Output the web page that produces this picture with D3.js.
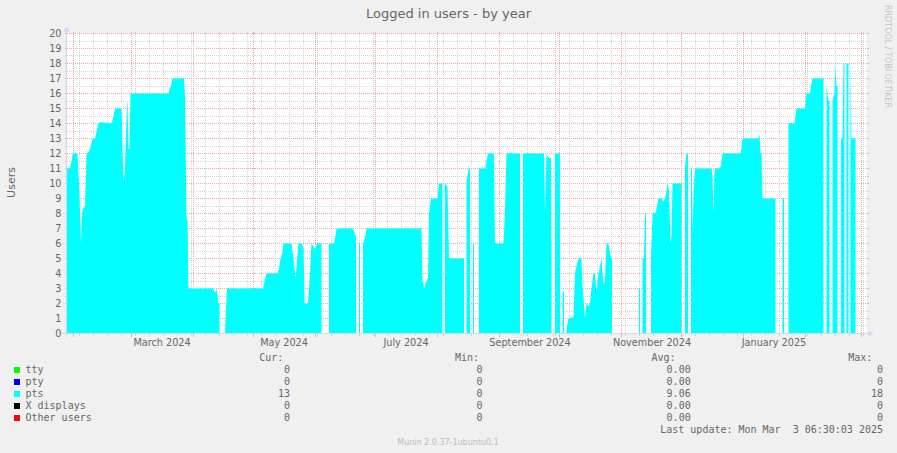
<!DOCTYPE html>
<html>
<head>
<meta charset="utf-8">
<script src="https://cdn.jsdelivr.net/npm/d3@7"></script>
<style>
  body { margin: 0; background: #f0f0f0; }
  svg { display: block; }
  text { fill: #666; }
</style>
</head>
<body>
<svg id="chart"></svg>
<script>
// pts series: [time, users], null = no data
const ptsData = [
    ['2024-01-28 12:00', 11], ['2024-01-30 06:00', 11], ['2024-01-30 18:00', 11.3], ['2024-01-31 06:00', 11.6],
    ['2024-01-31 12:00', 12], ['2024-02-03 00:00', 12], ['2024-02-03 18:00', 10], ['2024-02-04 18:00', 6],
    ['2024-02-05 06:00', 8], ['2024-02-05 18:00', 8.3], ['2024-02-06 18:00', 8.5], ['2024-02-07 12:00', 12],
    ['2024-02-08 18:00', 12.1], ['2024-02-09 06:00', 12.3], ['2024-02-10 12:00', 13], ['2024-02-11 18:00', 13],
    ['2024-02-12 06:00', 13.3], ['2024-02-13 12:00', 14], ['2024-02-14 00:00', 14.1], ['2024-02-20 00:00', 14],
    ['2024-02-20 12:00', 14.2], ['2024-02-21 00:00', 14.5], ['2024-02-21 18:00', 15], ['2024-02-25 00:00', 15],
    ['2024-02-26 00:00', 10], ['2024-02-26 18:00', 11], ['2024-02-27 18:00', 15.4], ['2024-02-28 00:00', 15.4],
    ['2024-02-28 12:00', 12.3], ['2024-02-29 00:00', 12.3], ['2024-02-29 12:00', 16], ['2024-03-19 12:00', 16],
    ['2024-03-20 00:00', 16.3], ['2024-03-20 18:00', 16.5], ['2024-03-21 12:00', 17], ['2024-03-27 06:00', 17],
    ['2024-03-27 18:00', 15.8], ['2024-03-28 12:00', 7.7], ['2024-03-29 00:00', 7.5], ['2024-03-29 12:00', 3],
    ['2024-04-11 00:00', 3], ['2024-04-11 18:00', 2.7], ['2024-04-12 12:00', 3], ['2024-04-13 12:00', 2],
    ['2024-04-14 00:00', 2], ['2024-04-15 00:00', null], ['2024-04-16 18:00', 0], ['2024-04-17 00:00', 1],
    ['2024-04-17 18:00', 3], ['2024-05-05 18:00', 3], ['2024-05-06 12:00', 3.5], ['2024-05-07 12:00', 4],
    ['2024-05-13 00:00', 4], ['2024-05-13 18:00', 4.3], ['2024-05-14 12:00', 5], ['2024-05-15 12:00', 5.4],
    ['2024-05-16 00:00', 6], ['2024-05-20 00:00', 6], ['2024-05-21 00:00', 5], ['2024-05-22 00:00', 3.6],
    ['2024-05-23 00:00', 5.3], ['2024-05-23 12:00', 6], ['2024-05-25 00:00', 6], ['2024-05-26 00:00', 5.7],
    ['2024-05-26 12:00', 2], ['2024-05-28 06:00', 2], ['2024-05-29 06:00', 4], ['2024-05-30 00:00', 6],
    ['2024-05-31 00:00', 5.8], ['2024-05-31 18:00', 5.6], ['2024-06-01 18:00', 6], ['2024-06-04 00:00', 6],
    ['2024-06-05 00:00', null], ['2024-06-07 18:00', 6], ['2024-06-10 06:00', 6], ['2024-06-10 18:00', 6.3],
    ['2024-06-11 12:00', 7], ['2024-06-19 18:00', 7], ['2024-06-20 18:00', 6.6], ['2024-06-21 06:00', 6.5],
    ['2024-06-22 00:00', null], ['2024-06-22 18:00', 6], ['2024-06-23 06:00', 6], ['2024-06-24 00:00', null],
    ['2024-06-24 18:00', 6], ['2024-06-25 18:00', 6.3], ['2024-06-26 12:00', 7], ['2024-07-24 00:00', 7],
    ['2024-07-24 12:00', 3.5], ['2024-07-25 06:00', 3], ['2024-07-26 12:00', 3.5], ['2024-07-27 06:00', 3.7],
    ['2024-07-27 18:00', 8], ['2024-07-28 18:00', 9], ['2024-08-01 00:00', 9], ['2024-08-01 18:00', 10],
    ['2024-08-03 12:00', 10], ['2024-08-04 00:00', null], ['2024-08-04 18:00', 10], ['2024-08-06 00:00', 9.8],
    ['2024-08-06 18:00', 5], ['2024-08-14 06:00', 5], ['2024-08-15 00:00', null], ['2024-08-15 12:00', 10],
    ['2024-08-16 12:00', 11], ['2024-08-17 06:00', 11], ['2024-08-18 00:00', null], ['2024-08-18 18:00', 6],
    ['2024-08-19 06:00', 6], ['2024-08-20 00:00', null], ['2024-08-21 18:00', 11], ['2024-08-25 00:00', 11],
    ['2024-08-25 12:00', 11.5], ['2024-08-26 06:00', 12], ['2024-08-29 06:00', 12], ['2024-08-29 18:00', 6],
    ['2024-09-03 00:00', 6], ['2024-09-03 18:00', 8.3], ['2024-09-04 12:00', 12], ['2024-09-11 06:00', 12],
    ['2024-09-12 00:00', null], ['2024-09-12 18:00', 12], ['2024-09-23 06:00', 12], ['2024-09-23 18:00', 8],
    ['2024-09-24 12:00', 12], ['2024-09-25 12:00', 11.7], ['2024-09-26 18:00', 11.7], ['2024-09-27 00:00', 6],
    ['2024-09-28 00:00', null], ['2024-09-28 18:00', 12], ['2024-10-01 06:00', 12], ['2024-10-02 00:00', null],
    ['2024-10-02 12:00', 2.8], ['2024-10-03 06:00', 2.8], ['2024-10-04 00:00', null], ['2024-10-04 12:00', 0.2],
    ['2024-10-05 12:00', 1], ['2024-10-08 00:00', 1.1], ['2024-10-08 18:00', 4], ['2024-10-09 12:00', 4.5],
    ['2024-10-10 12:00', 5], ['2024-10-12 00:00', 5], ['2024-10-12 12:00', 3.2], ['2024-10-13 18:00', 1],
    ['2024-10-14 12:00', 2], ['2024-10-15 12:00', 1.8], ['2024-10-16 06:00', 2], ['2024-10-17 00:00', 3],
    ['2024-10-18 00:00', 4], ['2024-10-18 18:00', 4], ['2024-10-19 12:00', 2.7], ['2024-10-20 12:00', 4],
    ['2024-10-21 06:00', 4.5], ['2024-10-22 00:00', 5], ['2024-10-22 18:00', 3.6], ['2024-10-23 06:00', 3.2],
    ['2024-10-23 18:00', 3.6], ['2024-10-24 12:00', 6], ['2024-10-25 12:00', 6], ['2024-10-26 00:00', 5.6],
    ['2024-10-26 18:00', 5], ['2024-10-27 06:00', 5], ['2024-10-28 00:00', null], ['2024-11-09 18:00', 3],
    ['2024-11-10 06:00', 3], ['2024-11-11 00:00', null], ['2024-11-11 12:00', 5], ['2024-11-12 06:00', 5],
    ['2024-11-12 18:00', 8], ['2024-11-13 06:00', 8], ['2024-11-14 00:00', null], ['2024-11-15 18:00', 5],
    ['2024-11-16 12:00', 8], ['2024-11-18 00:00', 8], ['2024-11-18 12:00', 8.3], ['2024-11-19 12:00', 9],
    ['2024-11-21 00:00', 9], ['2024-11-22 00:00', 8.8], ['2024-11-22 18:00', 9], ['2024-11-23 12:00', 9.5],
    ['2024-11-24 00:00', 10], ['2024-11-24 18:00', 9.5], ['2024-11-25 12:00', 6], ['2024-11-26 00:00', 6.5],
    ['2024-11-26 12:00', 10], ['2024-12-01 00:00', 10], ['2024-12-02 00:00', null], ['2024-12-02 18:00', 11],
    ['2024-12-03 12:00', 12], ['2024-12-04 06:00', 12], ['2024-12-05 00:00', null], ['2024-12-05 18:00', 11],
    ['2024-12-06 06:00', 11], ['2024-12-06 12:00', 7], ['2024-12-07 06:00', 10], ['2024-12-07 18:00', 11],
    ['2024-12-16 00:00', 11], ['2024-12-16 12:00', 10.5], ['2024-12-17 00:00', 8], ['2024-12-17 12:00', 10.7],
    ['2024-12-17 18:00', 11], ['2024-12-20 06:00', 11], ['2024-12-20 18:00', 11.2], ['2024-12-21 12:00', 12],
    ['2024-12-30 06:00', 12], ['2024-12-30 18:00', 12.1], ['2024-12-31 12:00', 13], ['2025-01-08 12:00', 13],
    ['2025-01-09 00:00', 13.3], ['2025-01-09 12:00', 12], ['2025-01-10 00:00', 12], ['2025-01-10 12:00', 9],
    ['2025-01-17 00:00', 9], ['2025-01-18 00:00', null], ['2025-01-20 12:00', 9], ['2025-01-21 06:00', 9],
    ['2025-01-22 00:00', null], ['2025-01-23 12:00', 14], ['2025-01-26 12:00', 14], ['2025-01-26 18:00', 14.3],
    ['2025-01-27 12:00', 15], ['2025-01-31 18:00', 15], ['2025-02-01 12:00', 16], ['2025-02-03 06:00', 16],
    ['2025-02-03 18:00', 16.5], ['2025-02-04 12:00', 17], ['2025-02-10 00:00', 17], ['2025-02-11 00:00', null],
    ['2025-02-11 12:00', 16.5], ['2025-02-12 12:00', 15.5], ['2025-02-13 00:00', 15.5], ['2025-02-14 00:00', null],
    ['2025-02-14 12:00', 15.5], ['2025-02-15 12:00', 16], ['2025-02-15 18:00', 18], ['2025-02-16 12:00', 16.5],
    ['2025-02-17 00:00', 16.5], ['2025-02-18 00:00', null], ['2025-02-18 18:00', 13], ['2025-02-19 12:00', 13],
    ['2025-02-20 00:00', 18], ['2025-02-20 12:00', 18], ['2025-02-21 00:00', null], ['2025-02-21 12:00', 18],
    ['2025-02-22 12:00', 18], ['2025-02-23 00:00', null], ['2025-02-23 12:00', 18], ['2025-02-24 00:00', 13],
    ['2025-02-26 00:00', 13]
];

const timeRange = ['2024-01-28 12:00', '2025-03-03 12:00'];
const xTickLabels = ['March 2024', 'May 2024', 'July 2024', 'September 2024', 'November 2024', 'January 2025'];
const yTickValues = [0, 1, 2, 3, 4, 5, 6, 7, 8, 9, 10, 11, 12, 13, 14, 15, 16, 17, 18, 19, 20];

const legendNames = ['tty', 'pty', 'pts', 'X displays', 'Other users'];
const legendColors = ['#00ff00', '#0000ff', '#00ffff', '#000000', '#ff0000'];
const curValues = ['0', '0', '13', '0', '0'];
const minValues = ['0', '0', '0', '0', '0'];
const avgValues = ['0.00', '0.00', '9.06', '0.00', '0.00'];
const maxValues = ['0', '0', '18', '0', '0'];
const lastUpdate = 'Last update: Mon Mar  3 06:30:03 2025';

(function() {

    const w = 897;
    const h = 453;
    const left = 66.5, right = 866.5, top = 33.5, bottom = 333.5;
    const minorCol = '#d4d4d4';
    const majorCol = '#eaa8a8';
    const axisCol = '#cfd6f8';

    const parse = d3.utcParse('%Y-%m-%d %H:%M');
    const data = ptsData.map(d => ({ t: parse(d[0]), v: d[1] }));
    const t0 = parse(timeRange[0]);
    const t1 = parse(timeRange[1]);

    const x = d3.scaleUtc().domain([t0, t1]).range([left, right]);
    const y = d3.scaleLinear().domain([0, 20]).range([bottom, top]);

    const svg = d3.select('#chart')
        .attr('width', w)
        .attr('height', h);

    svg.append('rect')
        .attr('width', w).attr('height', h)
        .attr('fill', '#f0f0f0');

    svg.append('rect')
        .attr('x', left).attr('y', top)
        .attr('width', right - left).attr('height', bottom - top)
        .attr('fill', '#fff');

    const grid = svg.append('g').attr('shape-rendering', 'crispEdges');

    // horizontal grid, minor every 0.5, major every 1
    const hLine = (v, col) => {
        const yy = Math.round(y(v) - 0.5) + 0.5;
        grid.append('line').attr('x1', left).attr('x2', right).attr('y1', yy).attr('y2', yy)
            .attr('stroke', col).attr('stroke-dasharray', '1,1');
        grid.append('line').attr('x1', left - 2).attr('x2', left).attr('y1', yy).attr('y2', yy)
            .attr('stroke', col);
        grid.append('line').attr('x1', right).attr('x2', right + 2).attr('y1', yy).attr('y2', yy)
            .attr('stroke', col);
    };
    yTickValues.slice(0, -1).forEach(v => hLine(v + 0.5, minorCol));

    // vertical grid, minor weekly (Sunday), major monthly
    const vLine = (t, col, below) => {
        const xx = Math.round(x(t) - 0.5) + 0.5;
        grid.append('line').attr('x1', xx).attr('x2', xx).attr('y1', top).attr('y2', bottom)
            .attr('stroke', col).attr('stroke-dasharray', '1,1');
        grid.append('line').attr('x1', xx).attr('x2', xx).attr('y1', bottom).attr('y2', bottom + below)
            .attr('stroke', col);
        grid.append('line').attr('x1', xx).attr('x2', xx).attr('y1', top - 2).attr('y2', top)
            .attr('stroke', col);
    };
    d3.utcSunday.range(t0, t1).forEach(t => vLine(t, minorCol, 2));
    d3.utcMonth.range(t0, t1).forEach(t => vLine(t, majorCol, 3));
    yTickValues.forEach(v => hLine(v, majorCol));

    const area = d3.area()
        .defined(d => d.v !== null)
        .x(d => x(d.t))
        .y0(y(0))
        .y1(d => y(d.v));

    svg.append('path')
        .datum(data)
        .attr('d', area)
        .attr('fill', '#00ffff');

    // axes with arrows
    svg.append('line')
        .attr('x1', left - 4).attr('x2', right + 4).attr('y1', bottom).attr('y2', bottom)
        .attr('stroke', axisCol);
    svg.append('line')
        .attr('x1', left).attr('x2', left).attr('y1', bottom + 4).attr('y2', top - 4)
        .attr('stroke', axisCol);
    svg.append('path')
        .attr('d', `M${right + 2},${bottom - 3}L${right + 2},${bottom + 3}L${right + 7},${bottom}Z`)
        .attr('fill', axisCol);
    svg.append('path')
        .attr('d', `M${left - 3},${top - 2}L${left + 3},${top - 2}L${left},${top - 7}Z`)
        .attr('fill', axisCol);
    grid.append('line').attr('x1', left).attr('x2', right).attr('y1', bottom).attr('y2', bottom)
        .attr('stroke', majorCol).attr('stroke-dasharray', '1,1');

    // tick labels
    const labelDates = d3.utcMonth.range(t0, t1)
        .filter(t => t.getUTCMonth() % 2 === 0)
        .map(t => d3.utcDay.offset(t, 15));

    const xAxis = svg.append('g')
        .attr('transform', `translate(0,${bottom})`)
        .call(d3.axisBottom(x)
            .tickValues(labelDates)
            .tickSize(0)
            .tickPadding(5.5)
            .tickFormat((d, i) => xTickLabels[i]));

    const yAxis = svg.append('g')
        .attr('transform', `translate(${left},0)`)
        .call(d3.axisLeft(y)
            .tickValues(yTickValues)
            .tickSize(0)
            .tickPadding(5)
            .tickFormat(d3.format('d')));

    [xAxis, yAxis].forEach(a => {
        a.select('.domain').remove();
        a.selectAll('text')
            .attr('fill', '#666')
            .style('font-family', '"DejaVu Sans"')
            .style('font-size', '9.7px');
    });

    svg.append('text')
        .attr('x', 448.5).attr('y', 18)
        .attr('text-anchor', 'middle')
        .style('font-family', '"DejaVu Sans"')
        .style('font-size', '13px')
        .text('Logged in users - by year');

    svg.append('text')
        .attr('transform', 'translate(14.5,182.5) rotate(-90)')
        .attr('text-anchor', 'middle')
        .style('font-family', '"DejaVu Sans"')
        .style('font-size', '11px')
        .text('Users');

    svg.append('text')
        .attr('transform', 'translate(885,5) rotate(90)')
        .style('font-family', '"DejaVu Sans"')
        .style('font-size', '8px')
        .style('fill', '#c4c4c4')
        .text('RRDTOOL / TOBI OETIKER');

    svg.append('text')
        .attr('x', 448).attr('y', 445)
        .attr('text-anchor', 'middle')
        .style('font-family', '"DejaVu Sans"')
        .style('font-size', '8px')
        .style('fill', '#bdbdbd')
        .text('Munin 2.0.37-1ubuntu0.1');

    // legend
    const mono = t => t.style('font-family', '"DejaVu Sans Mono"').style('font-size', '10px')
        .style('white-space', 'pre');

    const headers = [['Cur:', 283.3], ['Min:', 479], ['Avg:', 675.6], ['Max:', 872.3]];
    headers.forEach(hd => {
        svg.append('text').attr('x', hd[1]).attr('y', 361)
            .attr('text-anchor', 'end').call(mono).text(hd[0]);
    });

    const cols = [[curValues, 290], [minValues, 482.5], [avgValues, 690.7], [maxValues, 883]];
    const rows = svg.append('g');

    legendNames.forEach((name, i) => {
        const by = 373 + i * 12;
        rows.append('rect')
            .attr('x', 14).attr('y', by - 6).attr('width', 6).attr('height', 6)
            .attr('fill', legendColors[i]);
        rows.append('text').attr('x', 25.5).attr('y', by).call(mono).text(name);
        cols.forEach(c => {
            rows.append('text').attr('x', c[1]).attr('y', by)
                .attr('text-anchor', 'end').call(mono).text(c[0][i]);
        });
    });

    svg.append('text').attr('x', 883).attr('y', 433)
        .attr('text-anchor', 'end').call(mono).text(lastUpdate);

})();
</script>
</body>
</html>
